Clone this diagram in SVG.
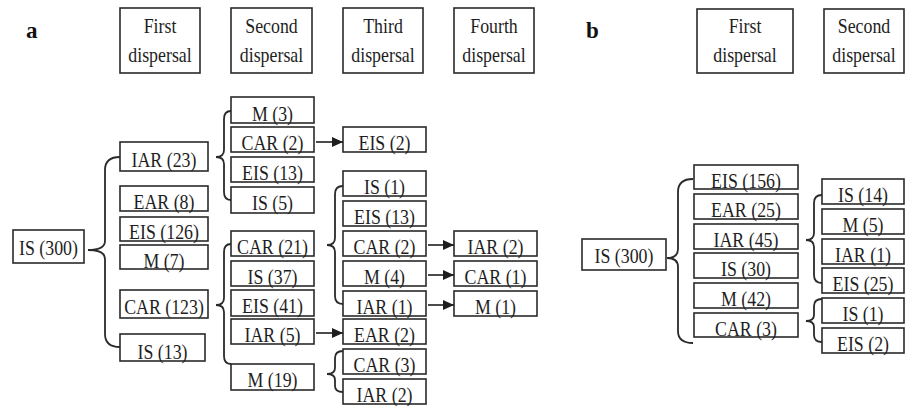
<svg xmlns="http://www.w3.org/2000/svg" width="909" height="406" viewBox="0 0 909 406">
<style>
  .box { fill: #fff; stroke: #2a2a2a; stroke-width: 1.6; }
  .t { font-family: "Liberation Serif", "Times New Roman", serif; font-size: 21px; fill: #1e1e1e; text-anchor: middle; }
  .lbl { font-family: "Liberation Serif", "Times New Roman", serif; font-size: 23px; font-weight: bold; fill: #111; }
  .brace { fill: none; stroke: #2a2a2a; stroke-width: 1.8; }
  .arr { fill: none; stroke: #1e1e1e; stroke-width: 1.6; marker-end: url(#ah); }
</style>
<defs>
  <marker id="ah" markerUnits="userSpaceOnUse" markerWidth="12" markerHeight="10" refX="11" refY="5" orient="auto">
    <path d="M0,0 L11,5 L0,10 z" fill="#1e1e1e"/>
  </marker>
</defs>
<rect width="909" height="406" fill="#fff"/>

<text class="lbl" x="26" y="38">a</text>
<text class="lbl" x="586" y="38">b</text>

<!-- Panel a headers -->
<g id="a-h1"><rect class="box" x="120" y="8" width="80" height="65"/><text class="t" transform="translate(160 33) scale(0.85 1)">First</text><text class="t" transform="translate(160 62) scale(0.85 1)">dispersal</text></g>
<g id="a-h2"><rect class="box" x="231" y="8" width="81" height="65"/><text class="t" transform="translate(271.5 33) scale(0.85 1)">Second</text><text class="t" transform="translate(271.5 62) scale(0.85 1)">dispersal</text></g>
<g id="a-h3"><rect class="box" x="343" y="8" width="80" height="65"/><text class="t" transform="translate(383 33) scale(0.85 1)">Third</text><text class="t" transform="translate(383 62) scale(0.85 1)">dispersal</text></g>
<g id="a-h4"><rect class="box" x="454" y="8" width="80" height="65"/><text class="t" transform="translate(494 33) scale(0.85 1)">Fourth</text><text class="t" transform="translate(494 62) scale(0.85 1)">dispersal</text></g>

<!-- Panel a root -->
<g id="a-is300"><rect class="box" x="13" y="230" width="71" height="33"/><text class="t" transform="translate(48.5 255) scale(0.85 1)">IS (300)</text></g>

<!-- Panel a first dispersal -->
<g id="a-iar23"><rect class="box" x="120" y="142" width="88" height="29"/><text class="t" transform="translate(164 167) scale(0.85 1)">IAR (23)</text></g>
<g id="a-ear8"><rect class="box" x="120" y="186" width="88" height="25"/><text class="t" transform="translate(164 209) scale(0.85 1)">EAR (8)</text></g>
<g id="a-eis126"><rect class="box" x="120" y="217" width="88" height="24"/><text class="t" transform="translate(164 239) scale(0.85 1)">EIS (126)</text></g>
<g id="a-m7"><rect class="box" x="120" y="245" width="88" height="24"/><text class="t" transform="translate(164 268) scale(0.85 1)">M (7)</text></g>
<g id="a-car123"><rect class="box" x="120" y="290" width="88" height="28"/><text class="t" transform="translate(164 314) scale(0.85 1)">CAR (123)</text></g>
<g id="a-is13"><rect class="box" x="120" y="334" width="85" height="27"/><text class="t" transform="translate(162.5 359) scale(0.85 1)">IS (13)</text></g>

<!-- Panel a second dispersal -->
<g id="a-m3"><rect class="box" x="231" y="97" width="83" height="26"/><text class="t" transform="translate(272.5 121) scale(0.85 1)">M (3)</text></g>
<g id="a-car2"><rect class="box" x="231" y="127" width="83" height="25"/><text class="t" transform="translate(272.5 150) scale(0.85 1)">CAR (2)</text></g>
<g id="a-eis13"><rect class="box" x="231" y="157" width="83" height="25"/><text class="t" transform="translate(272.5 180) scale(0.85 1)">EIS (13)</text></g>
<g id="a-is5"><rect class="box" x="231" y="187" width="83" height="26"/><text class="t" transform="translate(272.5 210) scale(0.85 1)">IS (5)</text></g>
<g id="a-car21"><rect class="box" x="231" y="231" width="83" height="25"/><text class="t" transform="translate(272.5 254) scale(0.85 1)">CAR (21)</text></g>
<g id="a-is37"><rect class="box" x="231" y="261" width="83" height="25"/><text class="t" transform="translate(272.5 284) scale(0.85 1)">IS (37)</text></g>
<g id="a-eis41"><rect class="box" x="231" y="290" width="83" height="26"/><text class="t" transform="translate(272.5 313) scale(0.85 1)">EIS (41)</text></g>
<g id="a-iar5"><rect class="box" x="231" y="319" width="83" height="25"/><text class="t" transform="translate(272.5 342) scale(0.85 1)">IAR (5)</text></g>
<g id="a-m19"><rect class="box" x="231" y="364" width="83" height="26"/><text class="t" transform="translate(272.5 387) scale(0.85 1)">M (19)</text></g>

<!-- Panel a third dispersal -->
<g id="a-eis2"><rect class="box" x="343" y="127" width="83" height="25"/><text class="t" transform="translate(384.5 150) scale(0.85 1)">EIS (2)</text></g>
<g id="a-is1"><rect class="box" x="343" y="171" width="83" height="25"/><text class="t" transform="translate(384.5 194) scale(0.85 1)">IS (1)</text></g>
<g id="a-eis13b"><rect class="box" x="343" y="201" width="83" height="25"/><text class="t" transform="translate(384.5 224) scale(0.85 1)">EIS (13)</text></g>
<g id="a-car2b"><rect class="box" x="343" y="231" width="83" height="25"/><text class="t" transform="translate(384.5 254) scale(0.85 1)">CAR (2)</text></g>
<g id="a-m4"><rect class="box" x="343" y="261" width="83" height="25"/><text class="t" transform="translate(384.5 284) scale(0.85 1)">M (4)</text></g>
<g id="a-iar1"><rect class="box" x="343" y="291" width="83" height="25"/><text class="t" transform="translate(384.5 314) scale(0.85 1)">IAR (1)</text></g>
<g id="a-ear2"><rect class="box" x="343" y="319" width="83" height="25"/><text class="t" transform="translate(384.5 342) scale(0.85 1)">EAR (2)</text></g>
<g id="a-car3"><rect class="box" x="343" y="349" width="83" height="25"/><text class="t" transform="translate(384.5 372) scale(0.85 1)">CAR (3)</text></g>
<g id="a-iar2"><rect class="box" x="343" y="379" width="83" height="25"/><text class="t" transform="translate(384.5 402) scale(0.85 1)">IAR (2)</text></g>

<!-- Panel a fourth dispersal -->
<g id="a-iar2b"><rect class="box" x="454" y="231" width="83" height="25"/><text class="t" transform="translate(495.5 254) scale(0.85 1)">IAR (2)</text></g>
<g id="a-car1"><rect class="box" x="454" y="261" width="83" height="25"/><text class="t" transform="translate(495.5 284) scale(0.85 1)">CAR (1)</text></g>
<g id="a-m1"><rect class="box" x="454" y="291" width="83" height="25"/><text class="t" transform="translate(495.5 314) scale(0.85 1)">M (1)</text></g>

<!-- Panel b headers -->
<g id="b-h1"><rect class="box" x="697" y="9" width="96" height="64"/><text class="t" transform="translate(745 33) scale(0.85 1)">First</text><text class="t" transform="translate(745 62) scale(0.85 1)">dispersal</text></g>
<g id="b-h2"><rect class="box" x="824" y="9" width="80" height="64"/><text class="t" transform="translate(864 33) scale(0.85 1)">Second</text><text class="t" transform="translate(864 62) scale(0.85 1)">dispersal</text></g>

<!-- Panel b nodes -->
<g id="b-is300"><rect class="box" x="582" y="239" width="84" height="31"/><text class="t" transform="translate(624 263) scale(0.85 1)">IS (300)</text></g>
<g id="b-eis156"><rect class="box" x="694" y="165" width="104" height="24"/><text class="t" transform="translate(746 188) scale(0.85 1)">EIS (156)</text></g>
<g id="b-ear25"><rect class="box" x="694" y="194" width="104" height="25"/><text class="t" transform="translate(746 217) scale(0.85 1)">EAR (25)</text></g>
<g id="b-iar45"><rect class="box" x="694" y="224" width="104" height="25"/><text class="t" transform="translate(746 247) scale(0.85 1)">IAR (45)</text></g>
<g id="b-is30"><rect class="box" x="694" y="253" width="104" height="25"/><text class="t" transform="translate(746 276) scale(0.85 1)">IS (30)</text></g>
<g id="b-m42"><rect class="box" x="694" y="283" width="104" height="25"/><text class="t" transform="translate(746 306) scale(0.85 1)">M (42)</text></g>
<g id="b-car3"><rect class="box" x="694" y="313" width="104" height="24"/><text class="t" transform="translate(746 336) scale(0.85 1)">CAR (3)</text></g>
<g id="b-is14"><rect class="box" x="822" y="179" width="82" height="25"/><text class="t" transform="translate(863 202) scale(0.85 1)">IS (14)</text></g>
<g id="b-m5"><rect class="box" x="822" y="209" width="82" height="25"/><text class="t" transform="translate(863 232) scale(0.85 1)">M (5)</text></g>
<g id="b-iar1"><rect class="box" x="822" y="239" width="82" height="25"/><text class="t" transform="translate(863 262) scale(0.85 1)">IAR (1)</text></g>
<g id="b-eis25"><rect class="box" x="822" y="268" width="82" height="25"/><text class="t" transform="translate(863 291) scale(0.85 1)">EIS (25)</text></g>
<g id="b-is1"><rect class="box" x="822" y="298" width="82" height="25"/><text class="t" transform="translate(863 321) scale(0.85 1)">IS (1)</text></g>
<g id="b-eis2"><rect class="box" x="822" y="328" width="82" height="25"/><text class="t" transform="translate(863 351) scale(0.85 1)">EIS (2)</text></g>

<!-- Connectors -->
<g id="connectors">
  <path class="brace" d="M120 157 Q105 157 105 170 V241 Q105 250 88 250 Q105 250 105 259 V334 Q105 347 120 347"/>
  <path class="brace" d="M231 111 Q224 111 224 119 V150 Q224 157 216 157 Q224 157 224 164 V192 Q224 200 231 200"/>
  <path class="brace" d="M231 244 Q224 244 224 252 V298 Q224 305 216 305 Q224 305 224 312 V356 Q224 364 231 364"/>
  <path class="brace" d="M343 186 Q335 186 335 194 V238 Q335 245 327 245 Q335 245 335 252 V296 Q335 304 343 304"/>
  <path class="brace" d="M343 351 Q335 351 335 358 V368 Q335 374 327 374 Q335 374 335 380 V386 Q335 392 343 392"/>
  <path class="brace" d="M693 179 Q678 179 678 192 V249 Q678 258 667 258 Q678 258 678 267 V331 Q678 343 693 343"/>
  <path class="brace" d="M822 195 Q814 195 814 203 V233 Q814 240 806 240 Q814 240 814 247 V275 Q814 283 822 283"/>
  <path class="brace" d="M822 299 Q814 299 814 306 V315 Q814 321 806 321 Q814 321 814 327 V335 Q814 342 822 342"/>
  <line class="arr" x1="316" y1="142" x2="343" y2="142"/>
  <line class="arr" x1="316" y1="333" x2="343" y2="333"/>
  <line class="arr" x1="428" y1="245" x2="454" y2="245"/>
  <line class="arr" x1="428" y1="275" x2="454" y2="275"/>
  <line class="arr" x1="428" y1="305" x2="454" y2="305"/>
</g>
</svg>
